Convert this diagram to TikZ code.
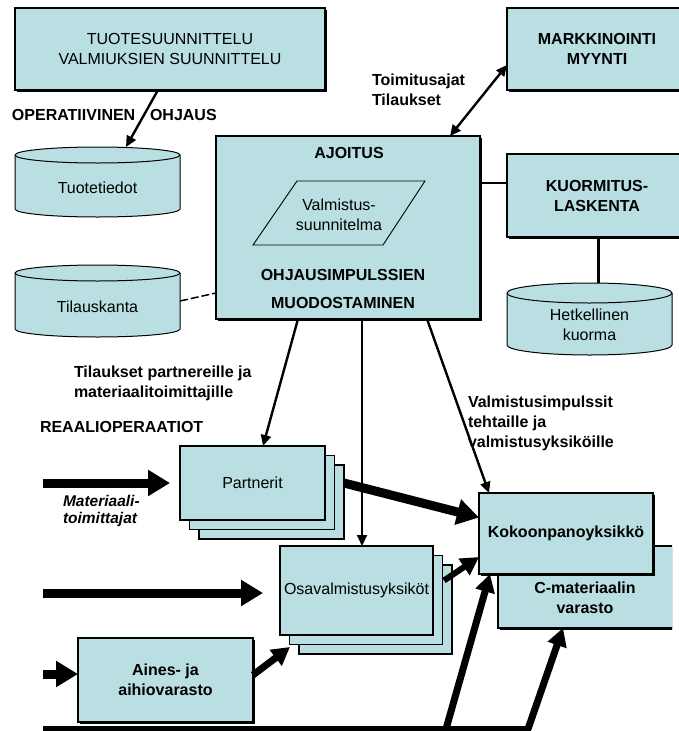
\documentclass[tikz,border=0pt]{standalone}
\usepackage{fontspec}
\setmainfont{Liberation Sans}
\usetikzlibrary{arrows.meta,shadows}
\definecolor{boxfill}{RGB}{185,223,226}

\tikzset{
  txt/.style={font=\fontsize{16}{20}\selectfont, inner sep=0pt, outer sep=0pt},
  btxt/.style={font=\fontsize{16}{20}\selectfont\bfseries, inner sep=0pt, outer sep=0pt},
  box/.style={draw=black, line width=1.2pt, fill=boxfill, anchor=north west,
    inner sep=0pt, outer sep=0pt, align=center,
    drop shadow={shadow xshift=1.6pt, shadow yshift=-1.6pt, fill=black, opacity=1}},
  stackbox/.style={draw=black, line width=1.2pt, fill=boxfill, anchor=north west,
    inner sep=0pt, outer sep=0pt, align=center,
    double copy shadow={shadow xshift=9.5pt, shadow yshift=-9.5pt}},
  cyl/.style={draw=black, line width=1pt, fill=boxfill},
  thinarrow/.style={line width=2.4pt, -{Triangle[length=11pt,width=10pt]}},
  bigarrow/.style={line width=9pt, -{Triangle[length=22pt,width=25pt]}},
  midarrow/.style={line width=7pt, -{Triangle[length=18pt,width=19pt]}},
}

% database drum: name, left, top, right, bottom, ellipse half height, text
\newcommand\dbcyl[7]{%
  \pgfmathsetmacro\cylrx{(#4-#2)/2}%
  \pgfmathsetmacro\cylw{#4-#2}%
  \pgfmathsetmacro\cylh{#5-#3}%
  \filldraw[cyl] (#2,#3+#6) -- (#2,#5-#6)
    arc[start angle=180,end angle=360,x radius=\cylrx pt,y radius=#6pt]
    -- (#4,#3+#6)
    arc[start angle=0,end angle=180,x radius=\cylrx pt,y radius=#6pt] -- cycle;
  \draw[cyl, fill=none] (#2,#3+#6)
    arc[start angle=180,end angle=360,x radius=\cylrx pt,y radius=#6pt];
  \node[inner sep=0pt, outer sep=0pt, minimum width=\cylw pt, minimum height=\cylh pt,
    label={[txt, align=center, yshift=-6pt]center:#7}]
    (#1) at ({(#2+#4)/2},{(#3+#5)/2}) {};
}

\begin{document}
\begin{tikzpicture}[x=1pt,y=-1pt]
\clip (0,0) rectangle (679,731);

% ---- planning and control level
\node[box, txt, minimum width=310pt, minimum height=82pt] (tuotes) at (15,8)
  {TUOTESUUNNITTELU\\VALMIUKSIEN SUUNNITTELU};
\node[box, btxt, minimum width=180pt, minimum height=82pt] (mark) at (507,8)
  {MARKKINOINTI\\MYYNTI};

\node[box, minimum width=264pt, minimum height=183pt] (ajo) at (216,136) {};
\node[btxt] (ajoA) at (349,153) {AJOITUS};
\filldraw[draw=black, line width=0.9pt, fill=boxfill]
  (297,181) -- (425,181) -- (383,245) -- (253,245) -- cycle;
\node[txt, align=center] (suunn) at (339,215) {Valmistus-\\suunnitelma};
\node[btxt] (ohj1) at (343,275) {OHJAUSIMPULSSIEN};
\node[btxt] (ohj2) at (343,303) {MUODOSTAMINEN};

\node[box, btxt, minimum width=180pt, minimum height=83pt] (kuorm) at (507,154)
  {KUORMITUS-\\LASKENTA};

\dbcyl{tuo}{15}{147}{180}{217}{8}{Tuotetiedot}
\dbcyl{tila}{15}{265}{180}{337}{8}{Tilauskanta}
\dbcyl{hetk}{507}{283}{672}{355}{10}{Hetkellinen\\kuorma}

% ---- labels
\node[btxt, anchor=west] (opL) at (12,115) {OPERATIIVINEN};
\node[btxt, anchor=west] (opR) at (150,115) {OHJAUS};
\node[btxt, anchor=west, align=left] (toim) at (372,90) {Toimitusajat\\Tilaukset};
\node[btxt, anchor=west, align=left] (tilp) at (74,383)
  {Tilaukset partnereille ja\\materiaalitoimittajille};
\node[btxt, anchor=west] (reaali) at (40,427) {REAALIOPERAATIOT};
\node[btxt, anchor=west, align=left, font=\fontsize{15.5}{17.5}\selectfont\bfseries\itshape]
  (mtoim) at (63,511) {Materiaali-\\toimittajat};
\node[btxt, anchor=west, align=left] (valimp) at (468,423)
  {Valmistusimpulssit\\tehtaille ja\\valmistusyksiköille};

% ---- real operations
\node[stackbox, txt, minimum width=145pt, minimum height=74pt] (partn) at (180,446) {Partnerit};
\node[stackbox, txt, minimum width=153pt, minimum height=89pt] (osav) at (280,546)
  {Osavalmistusyksiköt};
\begin{scope}
  \clip (0,0) rectangle (672,731);
  \node[box, minimum width=190pt, minimum height=82pt] (cmat) at (498,546) {};
\end{scope}
\node[btxt, align=center] (cmattxt) at (585,598) {C-materiaalin\\varasto};
\node[box, btxt, minimum width=174pt, minimum height=81pt] (kok) at (479,493) {Kokoonpanoyksikkö};
\node[box, btxt, minimum width=175pt, minimum height=84pt] (aines) at (78,638)
  {Aines- ja\\aihiovarasto};

% ---- information flows
\draw[thinarrow] ([xshift=143pt]tuotes.south west) -- ([xshift=111pt]tuo.north west);
\draw[line width=2.4pt, {Triangle[length=11pt,width=10pt]}-{Triangle[length=11pt,width=10pt]}]
  ([xshift=234pt]ajo.north west) -- ([yshift=-57pt]mark.north west);
\draw[line width=2pt] ([yshift=-47pt]ajo.north east) -- ([yshift=-29pt]kuorm.north west);
\draw[line width=3pt] ([xshift=91pt]kuorm.south west) -- ([xshift=91pt]hetk.north west);
\draw[line width=1.5pt, dash pattern=on 8pt off 3pt]
  ([yshift=-36pt]tila.north east) -- ([yshift=-157pt]ajo.north west);
\draw[thinarrow] ([xshift=82pt]ajo.south west) -- ([xshift=83pt]partn.north west);
\draw[thinarrow, line width=2pt] ([xshift=146pt]ajo.south west) -- ([xshift=82pt]osav.north west);
\draw[thinarrow] ([xshift=211pt]ajo.south west) -- ([xshift=10pt]kok.north west);

% ---- material flows
\coordinate (in1) at (43,483);
\coordinate (in2) at (43,593);
\coordinate (in3) at (43,674);
\draw[bigarrow, shorten >=10pt] (in1) -- (in1 -| partn.west);
\draw[bigarrow, shorten >=17pt] (in2) -- (in2 -| osav.west);
\draw[bigarrow] (in3) -- (in3 -| aines.west);
\draw[bigarrow] ([xshift=19pt]partn.east) -- ([yshift=16pt]kok.west);
\draw[midarrow, line width=6pt] ([xshift=11pt,yshift=10pt]osav.east) -- ([yshift=17pt]kok.south west);
\draw[midarrow] ([yshift=5pt]aines.east) -- ([xshift=10pt,yshift=-12pt]osav.south west);

\coordinate (b0) at (43,729);
\coordinate (b1) at (531,729);
\coordinate (bu1) at (446,729);
\coordinate (bu2) at (528,729);
\draw[line width=6pt] (b0) -- (b1);
\draw[midarrow] (bu1) -- ([xshift=11pt]kok.south west);
\draw[midarrow] (bu2) -- ([xshift=65pt]cmat.south west);
\end{tikzpicture}
\end{document}
